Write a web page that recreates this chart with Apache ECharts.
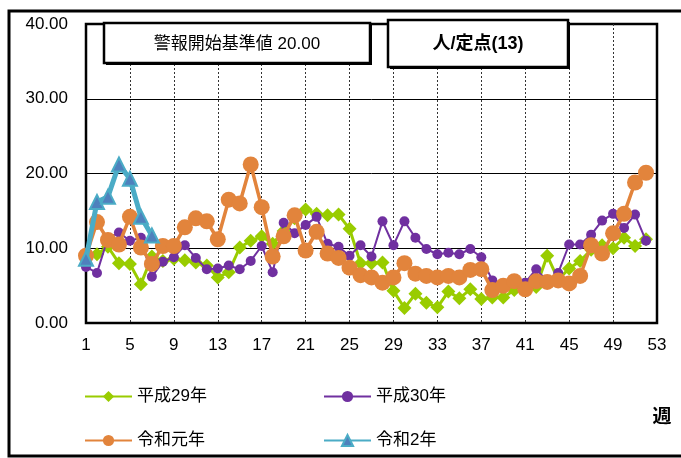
<!DOCTYPE html>
<html><head><meta charset="utf-8">
<script src="https://cdn.jsdelivr.net/npm/echarts@6/dist/echarts.min.js"></script>
<style>html,body{margin:0;padding:0;background:#fff}#c{width:681px;height:458px}</style>
</head><body><div id="c"></div>
<script>
const weeks = Array.from({length:53},(_,i)=>String(i+1));
const h29 = [8.7,9.2,10.2,8.0,7.9,5.2,8.9,8.3,8.6,8.4,8.1,7.7,6.1,6.8,10.1,11.0,11.6,10.6,12.3,14.0,15.2,14.6,14.4,14.5,12.6,8.0,8.0,8.1,4.3,2.0,3.9,2.7,2.1,4.2,3.3,4.5,3.2,3.4,3.4,4.4,5.2,4.8,9.0,5.8,7.3,8.3,9.8,10.4,10.0,11.4,10.3,11.2];
const h30 = [7.5,6.7,11.4,12.1,11.0,11.4,6.2,8.2,8.8,10.4,8.7,7.2,7.3,7.7,7.2,8.3,10.3,6.8,13.4,12.0,13.1,14.2,10.6,10.2,9.0,10.4,8.9,13.6,10.4,13.6,11.4,9.9,9.2,9.4,9.2,9.9,8.8,5.7,5.0,5.4,5.4,7.2,5.6,6.7,10.5,10.5,11.8,13.7,14.6,12.7,14.5,11.0];
const r1 = [9.0,13.5,11.1,10.5,14.2,10.1,7.9,10.3,10.3,12.8,14.0,13.6,11.2,16.5,16.0,21.2,15.5,8.9,11.6,14.4,9.7,12.2,9.3,8.7,7.4,6.4,6.1,5.4,6.1,8.0,6.6,6.3,6.1,6.3,6.1,7.1,7.2,4.4,5.0,5.6,4.5,5.6,5.5,5.7,5.3,6.3,10.4,9.3,12.0,14.6,18.8,20.1];
const r2 = [8.6,16.2,16.9,21.2,19.3,14.2,11.7];
const names = ['平成29年','平成30年','令和元年','令和2年'];
const titleText = '警報開始基準値 20.00';
const unitText = '人/定点(13)';
const xName = '週';

const FONT = '"Liberation Sans", "Noto Sans CJK JP", sans-serif';
const chart = echarts.init(document.getElementById('c'));
function lg(name, left, top){
  return {show:true, data:[name], left:left, top:top, itemWidth:47, itemHeight:14, itemGap:4,
    textStyle:{fontSize:17, color:'#000', fontFamily:FONT}};
}
chart.setOption({
  animation:false,
  backgroundColor:'#fff',
  grid:{left:86, top:24, width:571, height:299, show:true, borderColor:'#000', borderWidth:2.5, containLabel:false},
  xAxis:{type:'category', data:weeks, boundaryGap:false,
    axisLine:{show:false}, axisTick:{show:false},
    axisLabel:{interval:3, color:'#000', fontSize:17, fontFamily:FONT, margin:14},
    splitLine:{show:true, interval:function(i){return i%4===0 && i>0 && i<52;}, lineStyle:{color:'#333', type:[2,2], width:1}}
  },
  yAxis:{type:'value', min:0, max:40, interval:10,
    axisLine:{show:false}, axisTick:{show:false},
    axisLabel:{color:'#000', fontSize:17, fontFamily:FONT, margin:18, formatter:v=>v.toFixed(2)},
    splitLine:{show:true, lineStyle:{color:'#000', width:1}}
  },
  legend:[lg(names[0],79,383), lg(names[1],318,383), lg(names[2],79,427), lg(names[3],318,427)],
  series:[
    {name:names[0], type:'line', data:h29, symbol:'diamond', symbolSize:14, showAllSymbol:true, z:2,
      lineStyle:{color:'#99CC00', width:3}, itemStyle:{color:'#99CC00'}},
    {name:names[1], type:'line', data:h30, symbol:'circle', symbolSize:10, showAllSymbol:true, z:3,
      lineStyle:{color:'#7030A0', width:2}, itemStyle:{color:'#7030A0'}},
    {name:names[2], type:'line', data:r1, symbol:'circle', symbolSize:16, showAllSymbol:true, z:4,
      lineStyle:{color:'#E2843C', width:3.5}, itemStyle:{color:'#E2843C'}},
    {name:names[3], type:'line', data:r2, symbol:'triangle', symbolSize:14, showAllSymbol:true, z:5,
      lineStyle:{color:'#4BACC6', width:5}, itemStyle:{color:'#4F81BD', borderColor:'#4BACC6', borderWidth:2}}
  ],
  graphic:[
    {type:'rect', shape:{x:9, y:11, width:700, height:445}, style:{fill:null, stroke:'#000', lineWidth:3}, z:1},
    {type:'rect', shape:{x:106, y:25, width:266, height:40}, style:{fill:'#000'}, z:10},
    {type:'rect', shape:{x:104, y:23, width:266, height:40}, style:{fill:'#fff', stroke:'#000', lineWidth:2.5}, z:11},
    {type:'text', x:237, y:44, style:{text:titleText, fill:'#000', font:'17px '+FONT, align:'center', verticalAlign:'middle'}, z:12},
    {type:'rect', shape:{x:390, y:22, width:180, height:47}, style:{fill:'#000'}, z:10},
    {type:'rect', shape:{x:388, y:20, width:180, height:47}, style:{fill:'#fff', stroke:'#000', lineWidth:2.5}, z:11},
    {type:'text', x:478, y:44, style:{text:unitText, fill:'#000', font:'bold 18px '+FONT, align:'center', verticalAlign:'middle'}, z:12},
    {type:'text', x:662, y:418, style:{text:xName, fill:'#000', font:'bold 19px '+FONT, align:'center', verticalAlign:'middle'}, z:12}
  ]
});
</script>
</body></html>
